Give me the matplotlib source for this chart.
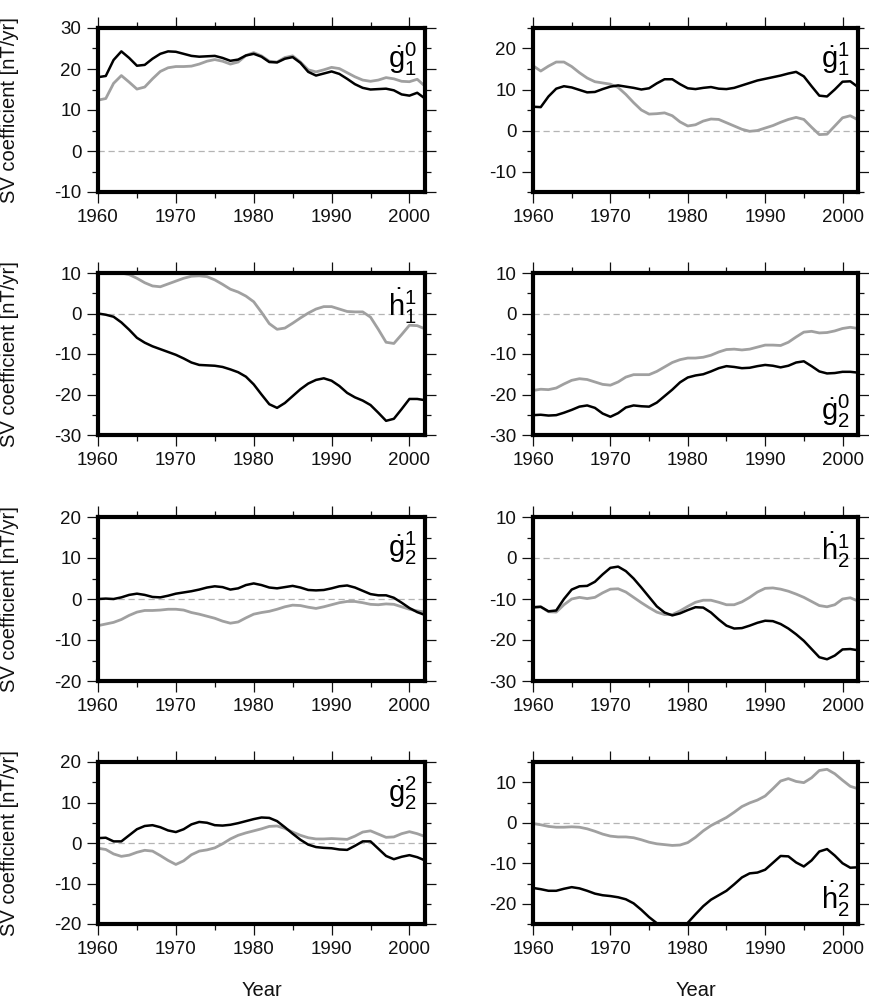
"""
SV coefficients 1960-2002: two models (black / gray) for the degree 1-2 Gauss coefficients
"""
import numpy as np
import matplotlib
matplotlib.use("Agg")
import matplotlib.pyplot as plt
from matplotlib.ticker import MultipleLocator

matplotlib.rcParams["font.family"] = ["Liberation Sans", "DejaVu Sans"]
matplotlib.rcParams["mathtext.fontset"] = "custom"
matplotlib.rcParams["mathtext.rm"] = "Liberation Sans"
matplotlib.rcParams["mathtext.it"] = "Liberation Sans"
matplotlib.rcParams["axes.unicode_minus"] = False

years = np.arange(1960, 2003)

# g10
g10_black = [18.0, 18.3, 22.2, 24.3, 22.7, 20.8, 21.0, 22.5, 23.7, 24.3, 24.2, 23.7, 23.2, 23.0, 23.1,
             23.2, 22.7, 22.0, 22.3, 23.3, 23.7, 23.0, 21.7, 21.6, 22.5, 22.9, 21.5, 19.3, 18.4, 18.9,
             19.4, 18.8, 17.6, 16.3, 15.4, 15.0, 15.1, 15.2, 14.8, 13.8, 13.5, 14.2, 12.8]
g10_gray = [12.4, 12.8, 16.5, 18.4, 16.8, 15.1, 15.6, 17.6, 19.4, 20.3, 20.6, 20.6, 20.7, 21.2, 21.9,
            22.3, 21.9, 21.2, 21.7, 23.3, 24.0, 23.2, 21.9, 21.7, 22.8, 23.2, 21.7, 19.8, 19.3, 19.8,
            20.4, 20.1, 19.1, 18.1, 17.3, 17.0, 17.3, 17.9, 17.6, 17.0, 16.9, 17.5, 15.8]

# g11
g11_black = [5.8, 5.7, 8.3, 10.2, 10.8, 10.5, 9.9, 9.3, 9.4, 10.1, 10.7, 11.0, 10.7, 10.4, 10.0,
             10.3, 11.5, 12.5, 12.5, 11.3, 10.3, 10.1, 10.4, 10.6, 10.2, 10.1, 10.4, 11.0, 11.6, 12.2,
             12.6, 13.0, 13.4, 13.9, 14.3, 13.2, 10.8, 8.5, 8.3, 10.0, 11.9, 12.0, 10.6]
g11_gray = [15.8, 14.5, 15.7, 16.7, 16.7, 15.6, 14.1, 12.8, 11.9, 11.6, 11.3, 10.5, 8.8, 6.8, 5.0,
            4.0, 4.1, 4.3, 3.6, 2.1, 1.1, 1.4, 2.3, 2.8, 2.7, 1.9, 1.1, 0.3, -0.2, 0.0,
            0.6, 1.2, 2.0, 2.7, 3.2, 2.7, 0.8, -1.0, -0.9, 1.1, 3.1, 3.6, 2.6]

# h11
h11_black = [0.0, -0.3, -0.8, -2.2, -4.0, -6.0, -7.2, -8.1, -8.8, -9.5, -10.2, -11.1, -12.1, -12.7, -12.8,
             -12.9, -13.2, -13.8, -14.5, -15.6, -17.5, -20.0, -22.4, -23.3, -22.1, -20.4, -18.7, -17.3, -16.4, -16.0,
             -16.6, -17.9, -19.6, -20.7, -21.5, -22.6, -24.5, -26.5, -26.0, -23.6, -21.1, -21.1, -21.4]
h11_gray = [np.nan, np.nan, np.nan, 10.0, 9.6, 8.7, 7.6, 6.8, 6.6, 7.3, 8.0, 8.7, 9.2, 9.3, 9.1,
            8.3, 7.2, 6.0, 5.3, 4.3, 2.9, 0.3, -2.5, -3.9, -3.6, -2.4, -1.1, 0.1, 1.1, 1.7,
            1.7, 1.1, 0.5, 0.4, 0.4, -0.9, -3.9, -7.1, -7.4, -5.2, -2.9, -3.0, -3.8]

# g20
g20_black = [-25.1, -25.0, -25.2, -25.1, -24.5, -23.8, -23.0, -22.7, -23.3, -24.7, -25.5, -24.6, -23.2, -22.7, -22.9,
             -23.0, -22.0, -20.4, -18.8, -17.0, -15.8, -15.3, -15.0, -14.3, -13.5, -13.0, -13.2, -13.5, -13.4, -13.0,
             -12.7, -12.9, -13.3, -12.9, -12.1, -11.8, -13.0, -14.3, -14.8, -14.7, -14.4, -14.4, -14.6]
g20_gray = [-19.0, -18.7, -18.8, -18.4, -17.4, -16.5, -16.1, -16.3, -16.9, -17.5, -17.7, -16.9, -15.7, -15.1, -15.1,
            -15.1, -14.3, -13.2, -12.1, -11.4, -11.0, -11.0, -10.8, -10.3, -9.5, -8.9, -8.8, -9.0, -8.8, -8.3,
            -7.8, -7.8, -7.9, -7.1, -5.8, -4.6, -4.4, -4.8, -4.7, -4.3, -3.7, -3.4, -3.7]

# g21
g21_black = [0.0, 0.1, 0.0, 0.4, 1.0, 1.3, 1.0, 0.5, 0.4, 0.8, 1.3, 1.6, 1.9, 2.3, 2.8,
             3.1, 2.9, 2.3, 2.6, 3.4, 3.8, 3.4, 2.8, 2.6, 2.9, 3.2, 2.8, 2.2, 2.1, 2.2,
             2.6, 3.1, 3.3, 2.8, 2.0, 1.2, 0.9, 0.9, 0.3, -0.9, -2.2, -3.2, -3.9]
g21_gray = [-6.5, -6.1, -5.7, -5.0, -4.0, -3.2, -2.8, -2.8, -2.7, -2.5, -2.5, -2.7, -3.3, -3.7, -4.2,
            -4.7, -5.4, -5.9, -5.6, -4.6, -3.7, -3.3, -3.0, -2.5, -1.9, -1.5, -1.6, -2.0, -2.3, -1.9,
            -1.4, -0.9, -0.6, -0.6, -0.9, -1.3, -1.4, -1.2, -1.3, -1.9, -2.5, -2.9, -3.2]

# h21
h21_black = [-12.0, -11.9, -13.0, -12.8, -10.0, -7.7, -6.9, -6.8, -5.8, -4.0, -2.4, -2.1, -3.2, -5.0, -7.2,
             -9.5, -11.8, -13.3, -14.0, -13.5, -12.7, -12.0, -12.1, -13.3, -15.0, -16.5, -17.2, -17.1, -16.5, -15.8,
             -15.3, -15.4, -16.1, -17.2, -18.6, -20.2, -22.2, -24.2, -24.7, -23.8, -22.3, -22.2, -22.5]
h21_gray = [-12.1, -11.9, -13.1, -13.2, -11.4, -10.0, -9.6, -9.9, -9.6, -8.5, -7.6, -7.5, -8.3, -9.6, -10.9,
            -12.1, -13.2, -13.8, -13.8, -12.9, -11.8, -10.8, -10.3, -10.3, -10.8, -11.4, -11.4, -10.7, -9.6, -8.3,
            -7.4, -7.3, -7.6, -8.1, -8.8, -9.6, -10.6, -11.6, -11.9, -11.4, -10.0, -9.7, -10.5]

# g22
g22_black = [1.2, 1.3, 0.4, 0.4, 1.9, 3.4, 4.2, 4.4, 3.9, 3.1, 2.7, 3.4, 4.6, 5.2, 5.0,
             4.4, 4.3, 4.5, 4.9, 5.4, 5.9, 6.3, 6.2, 5.4, 3.9, 2.3, 0.8, -0.4, -1.0, -1.2,
             -1.3, -1.6, -1.7, -0.7, 0.4, 0.4, -1.4, -3.2, -4.0, -3.4, -3.0, -3.5, -4.3]
g22_gray = [-1.3, -1.6, -2.7, -3.3, -3.0, -2.3, -1.8, -2.0, -3.1, -4.3, -5.3, -4.4, -2.9, -2.0, -1.7,
            -1.2, -0.2, 1.0, 1.9, 2.5, 3.0, 3.5, 4.1, 4.2, 3.6, 2.7, 1.9, 1.3, 1.0, 1.0,
            1.1, 1.0, 0.9, 1.7, 2.7, 3.0, 2.2, 1.4, 1.5, 2.3, 2.8, 2.3, 1.6]

# h22
h22_black = [-16.1, -16.4, -16.8, -16.8, -16.3, -15.9, -16.2, -16.8, -17.5, -17.9, -18.1, -18.4, -18.9, -19.9, -21.5,
             -23.3, -24.8, -26.0, -26.5, -26.0, -24.7, -22.6, -20.6, -19.0, -17.9, -16.8, -15.2, -13.5, -12.5, -12.3,
             -11.6, -9.9, -8.2, -8.3, -9.8, -10.8, -9.3, -7.1, -6.5, -8.1, -10.0, -11.1, -11.0]
h22_gray = [-0.2, -0.5, -0.9, -1.1, -1.1, -1.0, -1.1, -1.5, -2.1, -2.8, -3.3, -3.5, -3.5, -3.7, -4.2,
            -4.8, -5.2, -5.4, -5.6, -5.5, -4.9, -3.6, -2.0, -0.7, 0.3, 1.3, 2.6, 4.0, 4.9, 5.6,
            6.6, 8.4, 10.3, 10.9, 10.2, 9.9, 11.1, 12.9, 13.2, 12.1, 10.5, 9.0, 8.4]

labels = [r"$\dot{g}_1^0$", r"$\dot{g}_1^1$", r"$\dot{h}_1^1$", r"$\dot{g}_2^0$",
          r"$\dot{g}_2^1$", r"$\dot{h}_2^1$", r"$\dot{g}_2^2$", r"$\dot{h}_2^2$"]
black_series = [g10_black, g11_black, h11_black, g20_black, g21_black, h21_black, g22_black, h22_black]
gray_series = [g10_gray, g11_gray, h11_gray, g20_gray, g21_gray, h21_gray, g22_gray, h22_gray]
ylims = [(-10, 30), (-15, 25), (-30, 10), (-30, 10), (-20, 20), (-30, 10), (-20, 20), (-25, 15)]
label_bottom = [False, False, False, True, False, False, False, True]

fig = plt.figure(figsize=(8.7, 10.02), dpi=100)

# panel layout in pixels (left, top, right, bottom)
col_x = [(98, 425), (533, 858)]
row_y = [(28, 192), (273, 435), (517, 681), (762, 924)]
W, H = 870, 1002

for i in range(8):
    r, c = divmod(i, 2)
    x0, x1 = col_x[c]
    y0, y1 = row_y[r]
    ax = fig.add_axes([x0 / W, 1 - y1 / H, (x1 - x0) / W, (y1 - y0) / H])

    ax.axhline(0, color="#b4b4b4", lw=0.9, ls=(0, (5, 3)), zorder=1)
    ax.plot(years, gray_series[i], color="#a0a0a0", lw=2.0, zorder=2)
    ax.plot(years, black_series[i], color="black", lw=1.8, zorder=3)

    ax.set_xlim(1960, 2002)
    ax.set_ylim(*ylims[i])
    ax.xaxis.set_major_locator(MultipleLocator(10))
    ax.xaxis.set_minor_locator(MultipleLocator(5))
    ax.yaxis.set_major_locator(MultipleLocator(10))
    ax.yaxis.set_minor_locator(MultipleLocator(5))
    ax.tick_params(which="both", direction="out", top=True, right=True, width=0.9,
                   labelsize=13.5, pad=4, colors="#111111")
    ax.tick_params(which="major", length=8)
    ax.tick_params(which="minor", length=4)
    for s in ax.spines.values():
        s.set_linewidth(3.0)

    if label_bottom[i]:
        ax.text(0.975, 0.03, labels[i], transform=ax.transAxes, ha="right", va="bottom", fontsize=21)
    else:
        ax.text(0.975, 0.92, labels[i], transform=ax.transAxes, ha="right", va="top", fontsize=21)

    if c == 0:
        fig.text(10 / W, 1 - (y0 + y1) / 2 / H, "SV coefficient [nT/yr]", rotation=90,
                 ha="center", va="center", fontsize=14.5, color="#111111")

for c in range(2):
    x0, x1 = col_x[c]
    fig.text((x0 + x1) / 2 / W, 1 - 991 / H, "Year", ha="center", va="center", fontsize=14.5,
             color="#111111")

fig.savefig("out.png", dpi=100)
plt.close()
